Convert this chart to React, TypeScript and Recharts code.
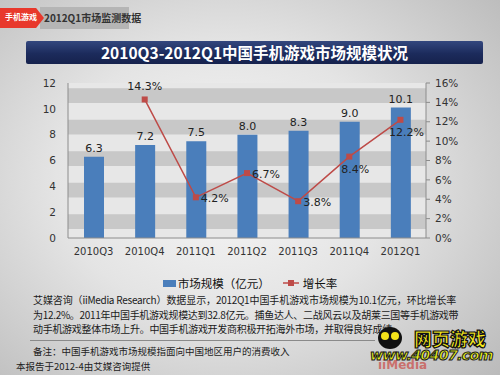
import React from "react";
import { ComposedChart, Bar, Line, XAxis, YAxis, LabelList, Legend } from "recharts";

const QUARTERS = ["2010Q3", "2010Q4", "2011Q1", "2011Q2", "2011Q3", "2011Q4", "2012Q1"];
const MARKET_SIZE = [6.3, 7.2, 7.5, 8.0, 8.3, 9.0, 10.1];
const GROWTH = [null, 14.3, 4.2, 6.7, 3.8, 8.4, 12.2];
const LEFT_TICKS = [0, 2, 4, 6, 8, 10, 12];
const RIGHT_TICKS = [0, 2, 4, 6, 8, 10, 12, 14, 16];

const BLUE = "#4a7ebb";
const RED = "#be4b48";
const CN = '"Noto Sans CJK SC", "Noto Sans", sans-serif';
const NUM = '"DejaVu Sans", "Noto Sans", sans-serif';

// where each growth label sits relative to its point
const GROWTH_LABEL_POS = ["", "top", "right", "right", "right", "below", "below"];

const data = QUARTERS.map((q, i) => ({ q, size: MARKET_SIZE[i], growth: GROWTH[i] }));

const SquareDot = (props: any) => {
  const { cx, cy, index } = props;
  if (cx == null || cy == null || GROWTH[index] == null) return <g key={index} />;
  return <rect key={index} x={cx - 3} y={cy - 3} width={6} height={6} fill={RED} />;
};

const GrowthLabel = (props: any) => {
  const { x, y, value, index } = props;
  if (value == null) return null;
  const pos = GROWTH_LABEL_POS[index];
  let tx = x, ty = y, anchor: "start" | "middle" = "middle";
  if (pos === "top") { ty = y - 9; }
  else if (pos === "right") { tx = x + 5; ty = y + 5; anchor = "start"; }
  else { tx = x + 6; ty = y + 16; }
  return (
    <text x={tx} y={ty} textAnchor={anchor} fontSize={11} fill="#222" fontFamily={NUM}>
      {`${value}%`}
    </text>
  );
};

const LegendContent = () => (
  <div style={{ display: "flex", justifyContent: "center", alignItems: "center", fontFamily: CN, fontSize: 11.5, color: "#111" }}>
    <span style={{ display: "inline-block", width: 13, height: 7, background: BLUE, marginRight: 2 }} />
    <span>市场规模（亿元）</span>
    <svg width={18} height={10} style={{ marginLeft: 12, marginRight: 3 }}>
      <line x1={1} y1={5} x2={17} y2={5} stroke={RED} strokeWidth={1.5} />
      <rect x={6} y={2} width={6} height={6} fill={RED} />
    </svg>
    <span>增长率</span>
  </div>
);

const lineStyle: React.CSSProperties = {
  whiteSpace: "nowrap",
  textAlign: "justify",
  textAlignLast: "justify",
  letterSpacing: -0.3,
};

export default function App() {
  return (
    <div
      style={{
        position: "absolute",
        left: 0,
        top: 0,
        width: 500,
        height: 375,
        overflow: "hidden",
        background: "radial-gradient(ellipse 75% 80% at 45% 48%, #f7f7f7 0%, #e4e4e4 45%, #b9b9b9 100%)",
        fontFamily: CN,
      }}
    >
      {/* header tag */}
      <div style={{ position: "absolute", left: 40, top: 7, width: 89, height: 22, background: "#b5b5b5" }} />
      <div
        style={{
          position: "absolute", left: 0, top: 8, width: 44, height: 20, background: "#e8382c",
          clipPath: "polygon(0 0, 82% 0, 100% 50%, 82% 100%, 0 100%)",
        }}
      />
      <div style={{ position: "absolute", left: 5, top: 11, fontSize: 8, color: "#fff", fontWeight: 700 }}>手机游戏</div>
      <div style={{ position: "absolute", left: 44, top: 10, fontSize: 10, color: "#333", fontWeight: 700 }}>2012Q1市场监测数据</div>

      {/* title bar */}
      <div
        style={{
          position: "absolute", left: 26, top: 41, width: 457, height: 23, borderRadius: 2,
          background: "linear-gradient(to bottom, #33477e 0%, #1c2b5c 55%, #16224d 100%)",
          color: "#fff", fontWeight: 700, fontSize: 15.5, lineHeight: "23px", textAlign: "center",
        }}
      >
        2010Q3-2012Q1中国手机游戏市场规模状况
      </div>

      {/* striped plot background */}
      <div
        style={{
          position: "absolute", left: 68, top: 83, width: 358, height: 155,
          backgroundColor: "#e7e7e7",
          backgroundImage: "linear-gradient(to top, #c8c8c8 0px, #c8c8c8 15px, #e7e7e7 15px, #e7e7e7 31.5px)",
          backgroundSize: "100% 31.5px",
          backgroundPosition: "left 0 bottom 9px",
        }}
      />

      <div style={{ position: "absolute", left: 0, top: 0 }}>
        <ComposedChart
          width={500}
          height={300}
          data={data}
          margin={{ top: 83, right: 30, bottom: 32, left: 30 }}
          barCategoryGap="30%"
        >
          <XAxis
            dataKey="q"
            axisLine={{ stroke: "#8c8c8c" }}
            tickLine={false}
            tickMargin={4}
            tick={{ fontSize: 10, fill: "#333", fontFamily: NUM }}
            height={30}
            interval={0}
          />
          <YAxis
            yAxisId="left"
            domain={[0, 12]}
            ticks={LEFT_TICKS}
            width={38}
            axisLine={{ stroke: "#8c8c8c" }}
            tickLine={false}
            tickMargin={6}
            tick={{ fontSize: 10.5, fill: "#333", fontFamily: NUM }}
          />
          <YAxis
            yAxisId="right"
            orientation="right"
            domain={[0, 16]}
            ticks={RIGHT_TICKS}
            tickFormatter={(v: number) => `${v}%`}
            width={44}
            axisLine={{ stroke: "#8c8c8c" }}
            tickLine={{ stroke: "#8c8c8c" }}
            tickSize={4}
            tickMargin={5}
            tick={{ fontSize: 10.5, fill: "#333", fontFamily: NUM }}
          />
          <Bar yAxisId="left" dataKey="size" fill={BLUE} barSize={20} isAnimationActive={false}>
            <LabelList dataKey="size" position="top" offset={5} fontSize={11} fill="#222" fontFamily={NUM}
              formatter={(v: any) => Number(v).toFixed(1)} />
          </Bar>
          <Line
            yAxisId="right"
            dataKey="growth"
            stroke={RED}
            strokeWidth={1.5}
            dot={<SquareDot />}
            activeDot={false}
            connectNulls={false}
            isAnimationActive={false}
          >
            <LabelList dataKey="growth" content={<GrowthLabel />} />
          </Line>
          <Legend
            layout="horizontal"
            verticalAlign="middle"
            align="center"
            content={<LegendContent />}
            wrapperStyle={{ top: 275, left: 30, width: 440 }}
          />
        </ComposedChart>
      </div>

      {/* commentary */}
      <div style={{ position: "absolute", left: 33, top: 293, width: 423, fontSize: 10, lineHeight: "14.5px", color: "#1a1a1a" }}>
        <div style={lineStyle}>艾媒咨询（iiMedia Research）数据显示，2012Q1中国手机游戏市场规模为10.1亿元，环比增长率</div>
        <div style={lineStyle}>为12.2%。2011年中国手机游戏规模达到32.8亿元。捕鱼达人、二战风云以及胡莱三国等手机游戏带</div>
        <div style={{ whiteSpace: "nowrap", letterSpacing: -0.3 }}>动手机游戏整体市场上升。中国手机游戏开发商积极开拓海外市场，并取得良好成绩。</div>
      </div>
      <div style={{ position: "absolute", left: 30, top: 340, width: 345, height: 1, background: "#8a8a8a" }} />
      <div style={{ position: "absolute", left: 33, top: 344, fontSize: 9.5, color: "#222" }}>
        备注：中国手机游戏市场规模指面向中国地区用户的消费收入
      </div>
      <div style={{ position: "absolute", left: 16, top: 359, fontSize: 9.5, color: "#222" }}>
        本报告于2012-4由艾媒咨询提供
      </div>

      {/* watermark */}
      <div style={{ position: "absolute", left: 378, top: 358, fontSize: 12, fontWeight: 700, color: "#c9352f", fontFamily: NUM, opacity: 0.6 }}>
        iiMedia
      </div>
      <div style={{ position: "absolute", left: 378, top: 327, width: 24, height: 22, borderRadius: "50%", background: "#111" }} />
      <div style={{ position: "absolute", left: 381, top: 332, width: 8, height: 8, borderRadius: "50%", background: "#f2e21a" }} />
      <div style={{ position: "absolute", left: 391, top: 332, width: 8, height: 8, borderRadius: "50%", background: "#f2e21a" }} />
      <div
        style={{
          position: "absolute", left: 414, top: 325, fontSize: 18, fontWeight: 900, color: "#f6ea1c",
          WebkitTextStroke: "1.2px #111",
        }}
      >
        网页游戏
      </div>
      <div
        style={{
          position: "absolute", left: 370, top: 347, fontSize: 14.5, fontWeight: 900, fontStyle: "italic",
          color: "#e8f01c", WebkitTextStroke: "1px #1a1a1a", fontFamily: NUM, letterSpacing: -0.9,
        }}
      >
        www.40407.com
      </div>
    </div>
  );
}
